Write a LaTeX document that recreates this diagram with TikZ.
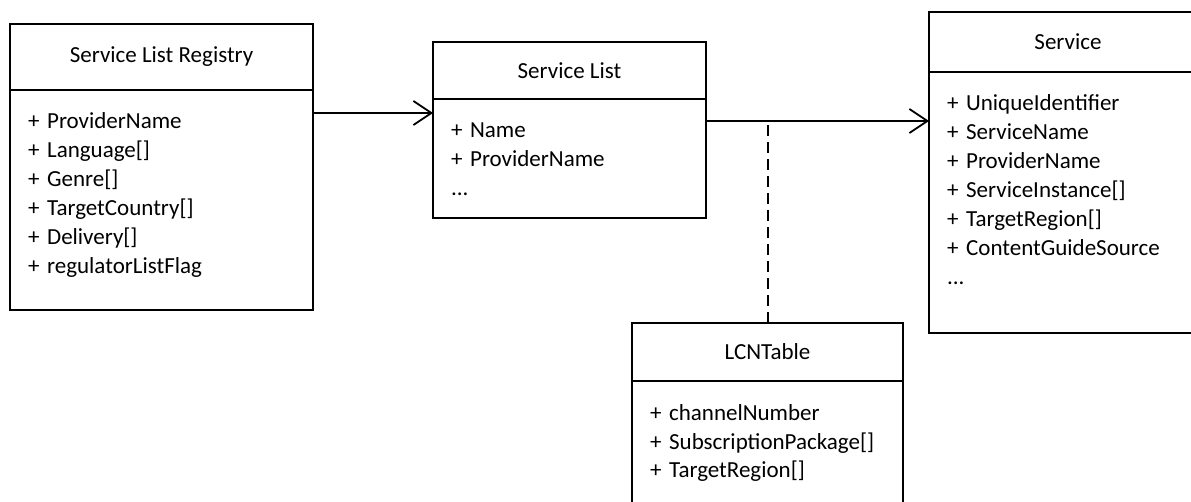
\documentclass[tikz,border=0pt]{standalone}
\usepackage{fontspec}
\setmainfont{Carlito}
\usetikzlibrary{positioning, arrows.meta}

\begin{document}
\begin{tikzpicture}[x=1pt, y=-1pt]
        % Define styles for the class boxes
        \tikzstyle{classhead} = [draw, line width=2.8pt, inner sep=0pt, outer sep=0pt, anchor=north west, font=\fontsize{23}{29}\selectfont]
        \tikzstyle{classbody} = [draw, line width=2.8pt, inner xsep=18pt, inner ysep=0pt, outer sep=0pt, text height=39pt, font=\fontsize{23}{29}\selectfont]
        \tikzstyle{assoc} = [line width=1.8pt, -{Straight Barb[length=18pt, width=24pt]}]
        \useasboundingbox (0,0) rectangle (1191,502);

        % Draw classes
        \node[classhead, minimum width=303pt, minimum height=66pt] (reghead) at (10,24) {Service List Registry};
        \node[classbody, text width=267pt, text depth=181pt, below=0pt of reghead] (regbody) {
                + ProviderName\\
                + Language[]\\
                + Genre[]\\
                + TargetCountry[]\\
                + Delivery[]\\
                + regulatorListFlag
        };
        \node[classhead, minimum width=273pt, minimum height=57pt] (slhead) at (433,42) {Service List};
        \node[classbody, text width=237pt, text depth=80pt, below=0pt of slhead] (slbody) {
                + Name\\
                + ProviderName\\
                ...
        };
        \node[classhead, minimum width=278pt, minimum height=60pt] (svchead) at (929,12) {Service};
        \node[classbody, text width=242pt, text depth=222pt, below=0pt of svchead] (svcbody) {
                + UniqueIdentifier\\
                + ServiceName\\
                + ProviderName\\
                + ServiceInstance[]\\
                + TargetRegion[]\\
                + ContentGuideSource\\
                ...
        };
        \node[classhead, minimum width=271pt, minimum height=58pt] (lcnhead) at (632,323) {LCNTable};
        \node[classbody, text width=235pt, text depth=200pt, below=0pt of lcnhead] (lcnbody) {
                + channelNumber\\
                + SubscriptionPackage[]\\
                + TargetRegion[]
        };

        % Draw arrows
        \coordinate (regout) at ([yshift=-23pt]regbody.north east);
        \coordinate (slout) at ([yshift=-22pt]slbody.north east);
        \draw[assoc] (regout) -- (regout -| slbody.west);
        \draw[assoc] (slout) -- (slout -| svcbody.west);
        \draw[line width=2pt, dash pattern=on 11pt off 6pt, shorten >=3pt] (lcnhead.north) -- (lcnhead.north |- slout);
\end{tikzpicture}
\end{document}
